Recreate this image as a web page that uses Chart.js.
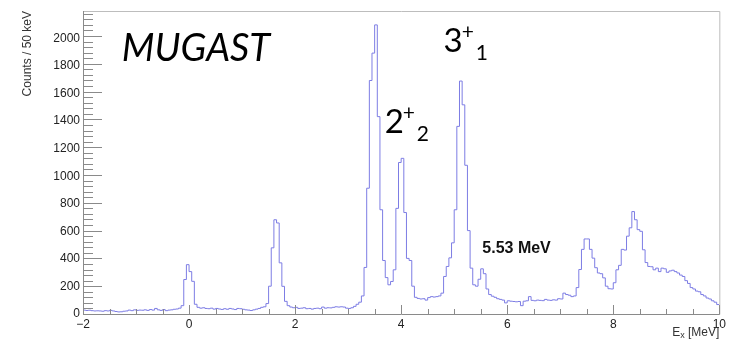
<!DOCTYPE html>
<html>
<head>
<meta charset="utf-8">
<script src="https://cdn.jsdelivr.net/npm/chart.js@4"></script>
<style>
  html, body { margin: 0; padding: 0; background: #fff; }
  #wrap { width: 729px; height: 340px; }
</style>
</head>
<body>
<div id="wrap"><canvas id="spectrum" width="729" height="340"></canvas></div>
<script>
// histogram binning (MeV)
const binStart = -2;
const binWidth = 0.05;

// counts per 50 keV bin, from -2 to 10 MeV
const counts = [
  28, 25, 27, 24, 22, 23, 22, 20, 24, 22,   // -2.0 .. -1.55
  26, 22, 18, 15, 16, 20, 22, 28, 24, 30,   // -1.5 .. -1.05
  26, 28, 27, 30, 26, 32, 28, 40, 30, 26,   // -1.0 .. -0.55
  32, 24, 28, 30, 34, 36, 42, 60, 248, 355, // -0.5 .. -0.05
  305, 235, 70, 48, 42, 45, 40, 38, 42, 35, // 0.0 .. 0.45
  40, 36, 33, 38, 34, 40, 36, 32, 40, 38,   // 0.5 .. 0.95
  34, 30, 28, 25, 30, 35, 40, 48, 52, 75,   // 1.0 .. 1.45
  200, 476, 678, 655, 368, 199, 91, 60, 50, 45, // 1.5 .. 1.95
  48, 40, 42, 45, 38, 40, 35, 40, 42, 38,   // 2.0 .. 2.45
  50, 42, 45, 44, 48, 52, 50, 52, 50, 42,   // 2.5 .. 2.95
  40, 45, 55, 70, 85, 130, 335, 905, 1680, 1877, // 3.0 .. 3.45
  2080, 1420, 750, 385, 262, 210, 234, 318, 760, 1090, // 3.5 .. 3.95
  1120, 730, 400, 385, 200, 120, 112, 108, 110, 100, // 4.0 .. 4.45
  118, 125, 122, 125, 130, 150, 270, 342, 404, 512, // 4.5 .. 4.95
  750, 1350, 1676, 1505, 1070, 600, 330, 210, 200, 250, // 5.0 .. 5.45
  325, 290, 180, 140, 128, 120, 110, 105, 100, 80, // 5.5 .. 5.95
  95, 92, 90, 88, 90, 60, 92, 95, 125, 98,  // 6.0 .. 6.45
  95, 100, 98, 96, 105, 100, 98, 102, 100, 110, // 6.5 .. 6.95
  108, 150, 140, 135, 125, 130, 190, 320, 465, 540, // 7.0 .. 7.45
  540, 465, 402, 333, 295, 290, 260, 200, 182, 180, // 7.5 .. 7.95
  225, 318, 350, 465, 460, 560, 620, 737, 678, 607, // 8.0 .. 8.45
  595, 462, 370, 342, 340, 318, 330, 305, 330, 325, // 8.5 .. 8.95
  300, 310, 315, 305, 295, 280, 270, 240, 220, 190, // 9.0 .. 9.45
  180, 165, 160, 140, 130, 115, 108, 95, 85, 68     // 9.5 .. 9.95
];

// axis tick labels
const xTickLabels = ['\u22122', '0', '2', '4', '6', '8', '10'];
const yTickLabels = ['0', '200', '400', '600', '800', '1000', '1200', '1400', '1600', '1800', '2000'];

const axisFont = 'Liberation Sans, Arial, sans-serif';

// step outline points: left edge of every bin, plus the right edge of the last one
const points = counts.map((c, i) => ({ x: binStart + i * binWidth, y: c }));
points.push({ x: binStart + counts.length * binWidth, y: counts[counts.length - 1] });

// ROOT-like frame with ticks drawn inside, plus the slide annotations
const rootFrame = {
  id: 'rootFrame',
  afterDraw(chart) {
    const { ctx, chartArea: a, scales: { x, y } } = chart;
    ctx.save();
    ctx.lineWidth = 1;

    // top / right frame
    ctx.strokeStyle = '#bdbdbd';
    ctx.beginPath();
    ctx.moveTo(a.left + 0.5, a.top + 0.5);
    ctx.lineTo(a.right + 0.5, a.top + 0.5);
    ctx.lineTo(a.right + 0.5, a.bottom + 0.5);
    ctx.stroke();

    // axes
    ctx.strokeStyle = '#8a8a8a';
    ctx.beginPath();
    ctx.moveTo(a.left + 0.5, a.top);
    ctx.lineTo(a.left + 0.5, a.bottom + 0.5);
    ctx.lineTo(a.right + 0.5, a.bottom + 0.5);
    ctx.stroke();

    // y ticks: major every 200, minor every 40
    ctx.beginPath();
    for (let v = 0; v <= y.max; v += 40) {
      const py = Math.round(y.getPixelForValue(v)) + 0.5;
      const len = v % 200 === 0 ? 19 : 10;
      ctx.moveTo(a.left, py);
      ctx.lineTo(a.left + len, py);
    }
    // x ticks: major every 2 MeV, minor every 0.5 MeV
    for (let k = 0; k <= 24; k++) {
      const v = x.min + k * 0.5;
      const px = Math.round(x.getPixelForValue(v)) + 0.5;
      const len = k % 4 === 0 ? 9 : 5;
      ctx.moveTo(px, a.bottom);
      ctx.lineTo(px, a.bottom - len);
    }
    ctx.stroke();

    // x axis title, right aligned at the end of the axis
    ctx.fillStyle = '#333';
    ctx.textBaseline = 'alphabetic';
    const big = '12px ' + axisFont, small = '9px ' + axisFont;
    ctx.font = big;
    const wE = ctx.measureText('E').width;
    const wRest = ctx.measureText(' [MeV]').width;
    ctx.font = small;
    const wSub = ctx.measureText('x').width;
    let tx = a.right - (wE + wSub + wRest);
    const ty = 337;
    ctx.font = big;
    ctx.fillText('E', tx, ty - 1);
    ctx.font = small;
    ctx.fillText('x', tx + wE, ty + 1);
    ctx.font = big;
    ctx.fillText(' [MeV]', tx + wE + wSub, ty - 1);

    // annotations anchored in data coordinates
    ctx.fillStyle = '#000';
    ctx.font = 'italic 38px Lato, "Open Sans", sans-serif';
    ctx.fillText('MUGAST', x.getPixelForValue(-1.27), y.getPixelForValue(1820));

    const level = (base, sup, sub, ex, cnt) => {
      const bx = x.getPixelForValue(ex), by = y.getPixelForValue(cnt);
      ctx.font = '33px Lato, "Open Sans", sans-serif';
      ctx.fillText(base, bx, by);
      const w = ctx.measureText(base).width;
      ctx.font = '21px Lato, "Open Sans", sans-serif';
      ctx.fillText(sup, bx + w - 1, by - 13);
      ctx.fillText(sub, bx + w + 13, by + 8);
    };
    level('3', '+', '1', 4.8, 1885);
    level('2', '+', '2', 3.69, 1303);

    ctx.font = 'bold 16px ' + axisFont;
    ctx.fillStyle = '#111';
    ctx.fillText('5.53 MeV', x.getPixelForValue(5.53), y.getPixelForValue(440));
    ctx.restore();
  }
};

new Chart(document.getElementById('spectrum').getContext('2d'), {
  type: 'line',
  data: {
    datasets: [{
      data: points,
      stepped: true,
      borderColor: 'rgb(125, 125, 228)',
      borderWidth: 1,
      pointRadius: 0,
      fill: false,
      tension: 0
    }]
  },
  options: {
    responsive: false,
    animation: false,
    devicePixelRatio: 1,
    layout: { padding: { top: 11, right: 9, left: 0, bottom: 0 } },
    plugins: {
      legend: { display: false },
      tooltip: { enabled: false }
    },
    scales: {
      x: {
        type: 'linear',
        min: -2,
        max: 10,
        grid: { display: false, drawTicks: false },
        border: { display: false },
        ticks: {
          stepSize: 2,
          autoSkip: false,
          maxRotation: 0,
          padding: 3,
          color: '#222',
          font: { family: axisFont, size: 12 },
          callback: (v, i) => xTickLabels[i]
        },
        afterFit: s => { s.height = 26; }
      },
      y: {
        min: 0,
        max: 2180,
        grid: { display: false, drawTicks: false },
        border: { display: false },
        ticks: {
          stepSize: 200,
          includeBounds: false,
          padding: 3,
          color: '#222',
          font: { family: axisFont, size: 12 },
          callback: (v, i) => yTickLabels[i]
        },
        title: {
          display: true,
          text: 'Counts / 50 keV',
          align: 'end',
          color: '#333',
          font: { family: axisFont, size: 12 },
          padding: { top: 20, bottom: 0 }
        },
        afterFit: s => { s.width = 83; }
      }
    }
  },
  plugins: [rootFrame]
});
</script>
</body>
</html>
